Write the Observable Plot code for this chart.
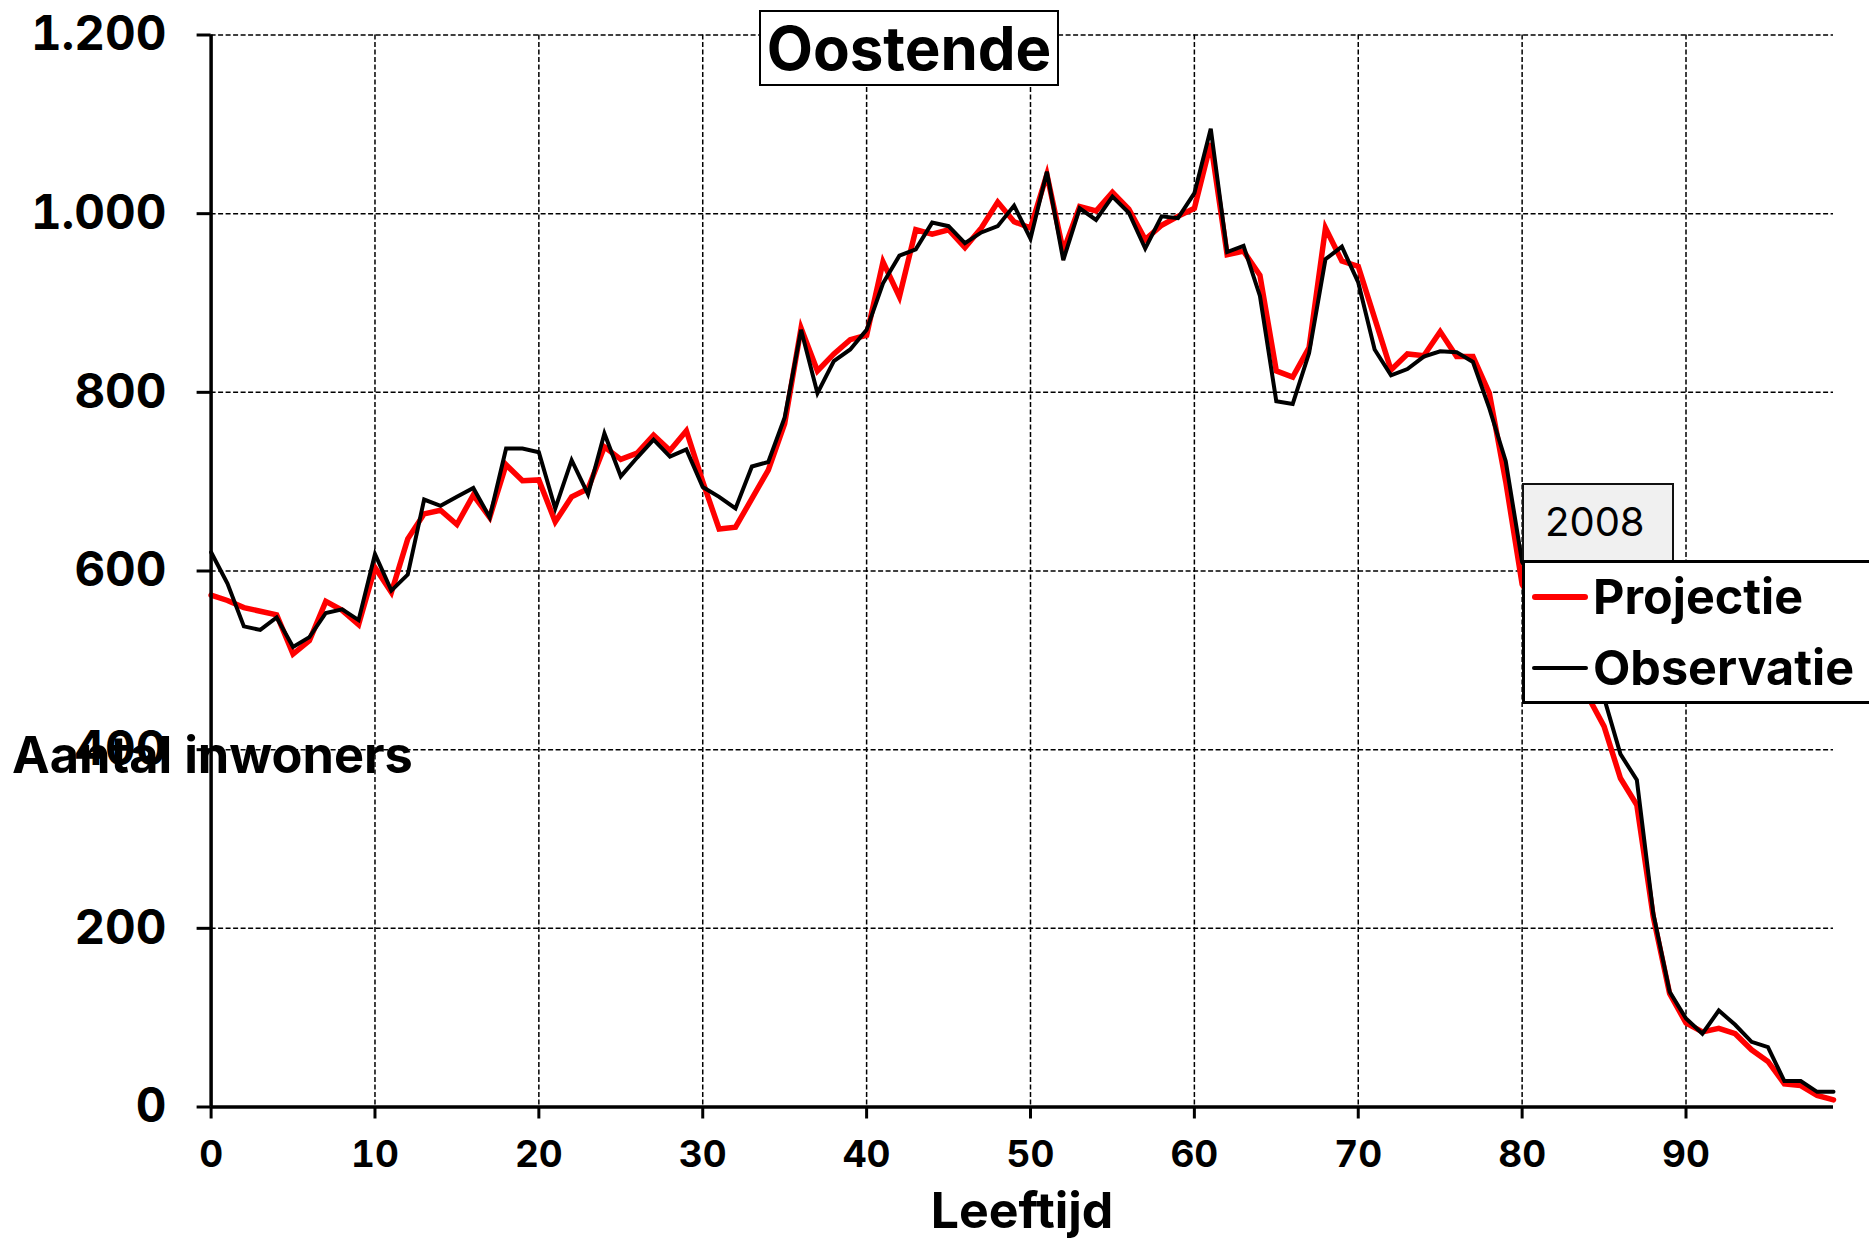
<!DOCTYPE html>
<html>
<head>
<meta charset="utf-8">
<script src="https://cdn.jsdelivr.net/npm/d3@7"></script>
<script src="https://cdn.jsdelivr.net/npm/@observablehq/plot@0.6"></script>
<style>
  html, body { margin: 0; padding: 0; background: #fff; }
  #wrap { position: relative; width: 1869px; height: 1240px; overflow: hidden; font-family: Inter, "DejaVu Sans", sans-serif; color: #000; }
  #wrap svg { position: absolute; left: 0; top: 0; }
  .abs { position: absolute; line-height: 1; white-space: nowrap; }
  #title { left: 759px; top: 10px; width: 300px; height: 76px; box-sizing: border-box; border: 2.5px solid #000; background: #fff;
           display: flex; align-items: center; justify-content: center; font-weight: 700; font-size: 60px; }
  #ylab { left: 12px; top: 730px; font-weight: 700; font-size: 50.5px; }
  #xlab { left: 822px; width: 400px; text-align: center; top: 1185px; font-weight: 700; font-size: 50px; }
  #yearbox { left: 1522px; top: 483px; width: 152px; height: 79px; box-sizing: border-box; border: 2.5px solid #111; background: #f0f0f0; }
  #yeartxt { left: 1545px; top: 502px; font-size: 40px; font-weight: 400; }
  #legbox { left: 1522px; top: 560px; width: 360px; height: 144px; box-sizing: border-box; border: 3px solid #000; background: #fff; }
  .sw { position: absolute; left: 1532px; width: 56px; border-radius: 3px; }
  .lt { left: 1593px; font-weight: 700; font-size: 48.5px; }
</style>
</head>
<body>
<div id="wrap">
  <div id="chart"></div>
  <div id="title" class="abs">Oostende</div>
  <div id="ylab" class="abs">Aantal inwoners</div>
  <div id="xlab" class="abs">Leeftijd</div>
  <div id="yearbox" class="abs"></div>
  <div id="yeartxt" class="abs">2008</div>
  <div id="legbox" class="abs"></div>
  <div class="sw" style="top:594px;height:6px;background:#ff0000;"></div>
  <div class="abs lt" style="top:573px;">Projectie</div>
  <div class="sw" style="top:666px;height:4px;background:#000;"></div>
  <div class="abs lt" style="top:644px;">Observatie</div>
</div>
<script>
// ---- data ----
const ages = [
  0,1,2,3,4,5,6,7,8,9,10,11,12,13,14,15,16,17,18,19,
  20,21,22,23,24,25,26,27,28,29,30,31,32,33,34,35,36,37,38,39,
  40,41,42,43,44,45,46,47,48,49,50,51,52,53,54,55,56,57,58,59,
  60,61,62,63,64,65,66,67,68,69,70,71,72,73,74,75,76,77,78,79,
  80,81,82,83,84,85,86,87,88,89,90,91,92,93,94,95,96,97,98,99
];
const projectie = [
  573,567,559,555,551,507,522,566,556,540,604,576,636,664,668,652,685,660,719,701,
  702,655,683,692,739,725,732,752,735,757,700,647,649,681,713,765,872,824,843,859,
  864,946,907,982,977,982,962,984,1013,991,984,1044,958,1008,1003,1024,1005,971,987,997,
  1006,1079,954,958,931,824,817,850,984,947,941,883,825,843,841,868,840,840,799,700,
  585,555,520,490,460,426,368,338,213,127,94,84,88,82,64,51,26,24,13,8
];
const observatie = [
  621,586,538,534,548,515,526,553,557,545,619,578,596,680,673,683,693,660,737,737,
  733,670,724,686,754,706,727,747,728,736,694,683,670,717,722,772,870,799,835,848,
  870,922,953,960,990,986,967,979,986,1009,972,1047,948,1006,993,1019,1001,961,997,995,
  1023,1095,957,964,908,790,787,844,949,963,923,848,819,826,840,846,845,834,782,723,
  610,580,545,515,485,458,395,366,217,129,99,82,108,92,73,67,29,29,17,17
];
const xTicks = [0,10,20,30,40,50,60,70,80,90];
const yTicks = [0,200,400,600,800,1000,1200];
const xDomain = [0, 99];
const yDomain = [0, 1200];

const projData = ages.map((a, i) => ({age: a, value: projectie[i]}));
const obsData = ages.map((a, i) => ({age: a, value: observatie[i]}));

const nl = d3.formatLocale({decimal: ",", thousands: ".", grouping: [3], currency: ["€", ""]});
const fmt = nl.format(",");

const gridStyle = {stroke: "#000", strokeOpacity: 1, strokeWidth: 1.5, strokeDasharray: "5,2.5"};

const chart = Plot.plot({
  width: 1869,
  height: 1240,
  marginLeft: 210.6,
  marginRight: 36,
  marginTop: 34.5,
  marginBottom: 133.5,
  style: {fontFamily: "Inter, 'DejaVu Sans', sans-serif", background: "transparent", color: "#000"},
  x: {domain: xDomain},
  y: {domain: yDomain},
  marks: [
    Plot.gridY(yTicks.filter(d => d > 0), gridStyle),
    Plot.gridX(xTicks.filter(d => d > 0), gridStyle),
    Plot.lineY(projData, {x: "age", y: "value", stroke: "#ff0000", strokeWidth: 5.5, strokeLinejoin: "miter", strokeMiterlimit: 4}),
    Plot.lineY(obsData, {x: "age", y: "value", stroke: "#000", strokeWidth: 4, strokeLinejoin: "miter", strokeMiterlimit: 4}),
    Plot.ruleX([xDomain[0]], {stroke: "#000", strokeWidth: 3.5}),
    Plot.ruleY([yDomain[0]], {stroke: "#000", strokeWidth: 3.5}),
    Plot.axisY(yTicks, {tickSize: 14, tickPadding: 30.6, fontSize: 47.5, fontWeight: "bold", strokeWidth: 3, tickFormat: fmt, label: null}),
    Plot.axisX(xTicks, {tickSize: 12, tickPadding: 21.5, fontSize: 37, fontWeight: "bold", strokeWidth: 3, tickFormat: d => String(d), label: null})
  ]
});
document.getElementById("chart").appendChild(chart);
</script>
</body>
</html>
